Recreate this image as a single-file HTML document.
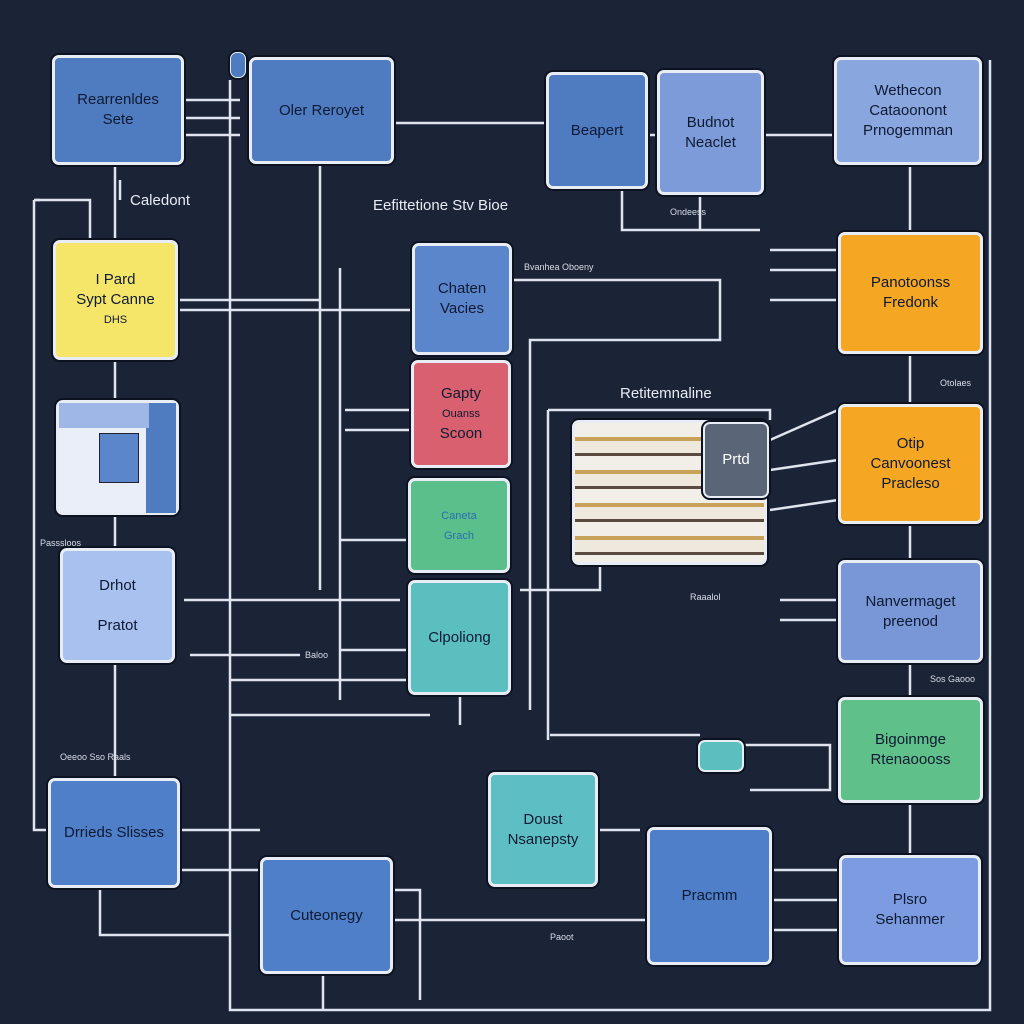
<!DOCTYPE html>
<html><head><meta charset="utf-8"><style>
html,body{margin:0;padding:0}
body{width:1024px;height:1024px;background:#1b2337;position:relative;overflow:hidden;font-family:"Liberation Sans",sans-serif}
svg{position:absolute;left:0;top:0}
.b{position:absolute;box-sizing:border-box;border:3px solid #e8edf5;border-radius:7px;box-shadow:0 0 0 2px #0c1220;display:flex;flex-direction:column;align-items:center;justify-content:center;text-align:center;font-size:15px;line-height:20px;color:#0e1a33}
.t{position:absolute;color:#e8ecf4;font-size:15px}
.s{position:absolute;color:#d8dde8;font-size:9px}
</style></head><body>
<svg width="1024" height="1024" stroke="#dfe4ee" stroke-width="2.5" fill="none">
<path d="M34 200V830H48"/><path d="M34 200H90V240"/><path d="M184 100H240M184 118H240M184 135H240"/>
<path d="M230 80V1010H990V60"/><path d="M320 165V590"/><path d="M178 300H320M178 310H410M340 268V700"/>
<path d="M396 123H546M648 135H657M764 135H834"/><path d="M510 280H720V340H530V710"/>
<path d="M184 600H400M190 655H300M230 680H410M230 715H430"/><path d="M460 695V725"/>
<path d="M548 410H770V420M548 410V740"/><path d="M600 565V590H520"/>
<path d="M770 250H838M770 270H838M770 300H838"/><path d="M910 165V230"/><path d="M910 355V404M910 524V560M910 663V697M910 803V855"/>
<path d="M700 745H830V790H750"/><path d="M550 735H700"/><path d="M180 830H260M180 870H260"/>
<path d="M395 890H420V1000"/><path d="M395 920H647M598 830H640"/><path d="M772 870H838M772 900H838M772 930H838"/>
<path d="M100 888V935H230"/><path d="M323 975V1010"/><path d="M115 165V240M115 360V400M115 515V548M115 663V778"/>
<path d="M345 410H411M345 430H411M340 540H408M340 650H408"/>
<path d="M770 440L838 410M770 470L838 460M770 510L838 500"/><path d="M780 600H838M780 620H838"/>
<path d="M622 190V230H760"/><path d="M700 195V230"/><path d="M40 200H35M120 180V200"/>
</svg>
<div class="b" style="left:52px;top:55px;width:132px;height:110px;background:#4f7bc0">Rearrenldes<br>Sete</div>
<div class="b" style="left:249px;top:57px;width:145px;height:107px;background:#4f7bc0">Oler Reroyet</div>
<div class="b" style="left:230px;top:52px;width:16px;height:26px;background:#4f7bc0;border-width:1px"></div>
<div class="b" style="left:546px;top:72px;width:102px;height:117px;background:#4f7bc0">Beapert</div>
<div class="b" style="left:657px;top:70px;width:107px;height:125px;background:#7d9bd8">Budnot<br>Neaclet</div>
<div class="b" style="left:834px;top:57px;width:148px;height:108px;background:#8aa6df">Wethecon<br>Cataoonont<br>Prnogemman</div>
<div class="b" style="left:53px;top:240px;width:125px;height:120px;background:#f5e66a">I Pard<br>Sypt Canne<br><span style="font-size:11px">DHS</span></div>
<div class="b" style="left:412px;top:243px;width:100px;height:112px;background:#5b86cc">Chaten<br>Vacies</div>
<div class="b" style="left:838px;top:232px;width:145px;height:122px;background:#f5a623">Panotoonss<br>Fredonk</div>
<div class="b" style="left:411px;top:360px;width:100px;height:108px;background:#d9606e">Gapty<br><span style="font-size:11px">Ouanss</span>Scoon</div>
<div class="b" style="left:56px;top:400px;width:123px;height:115px;background:#e9eef8"><div style="position:absolute;right:0;top:0;width:30px;height:110px;background:#4f7bc0"></div><div style="position:absolute;left:40px;top:30px;width:38px;height:48px;background:#5b86cc;border:1px solid #223"></div><div style="position:absolute;left:0;top:0;width:90px;height:25px;background:#9fb7e6"></div></div>
<div class="b" style="left:838px;top:404px;width:145px;height:120px;background:#f5a623">Otip<br>Canvoonest<br>Pracleso</div>
<div class="b" style="left:408px;top:478px;width:102px;height:95px;background:#5bbf8c"><span style="font-size:11px;color:#2a6fb0">Caneta<br>Grach</span></div>
<div class="b" style="left:572px;top:420px;width:195px;height:145px;background:repeating-linear-gradient(#f2efe8 0 14px,#c9a25a 14px 18px,#efe9dd 18px 30px,#5a4a40 30px 33px)"></div>
<div class="b" style="left:703px;top:422px;width:66px;height:76px;background:#5a6678;color:#fff;border-width:2px">Prtd</div>
<div class="b" style="left:60px;top:548px;width:115px;height:115px;background:#a9c1ef">Drhot<br><br>Pratot</div>
<div class="b" style="left:838px;top:560px;width:145px;height:103px;background:#7996d6">Nanvermaget<br>preenod</div>
<div class="b" style="left:408px;top:580px;width:103px;height:115px;background:#5bbfc0">Clpoliong</div>
<div class="b" style="left:838px;top:697px;width:145px;height:106px;background:#5fc08a">Bigoinmge<br>Rtenaoooss</div>
<div class="b" style="left:48px;top:778px;width:132px;height:110px;background:#4f7fc8">Drrieds Slisses</div>
<div class="b" style="left:488px;top:772px;width:110px;height:115px;background:#5dbfc4">Doust<br>Nsanepsty</div>
<div class="b" style="left:647px;top:827px;width:125px;height:138px;background:#4f7fc8">Pracmm</div>
<div class="b" style="left:260px;top:857px;width:133px;height:117px;background:#4f7fc8">Cuteonegy</div>
<div class="b" style="left:839px;top:855px;width:142px;height:110px;background:#7d9be0">Plsro<br>Sehanmer</div>
<div class="b" style="left:698px;top:740px;width:46px;height:32px;background:#5bbfc0;border-width:2px"></div>
<div class="t" style="left:130px;top:192px">Caledont</div>
<div class="t" style="left:373px;top:197px">Eefittetione Stv Bioe</div>
<div class="t" style="left:620px;top:385px">Retitemnaline</div>
<div class="s" style="left:524px;top:262px">Bvanhea Oboeny</div>
<div class="s" style="left:670px;top:207px">Ondeess</div>
<div class="s" style="left:940px;top:378px">Otolaes</div>
<div class="s" style="left:930px;top:674px">Sos Gaooo</div>
<div class="s" style="left:690px;top:592px">Raaalol</div>
<div class="s" style="left:60px;top:752px">Oeeoo   Sso Raals</div>
<div class="s" style="left:40px;top:538px">Passsloos</div>
<div class="s" style="left:550px;top:932px">Paoot</div>
<div class="s" style="left:305px;top:650px">Baloo</div>
</body></html>
